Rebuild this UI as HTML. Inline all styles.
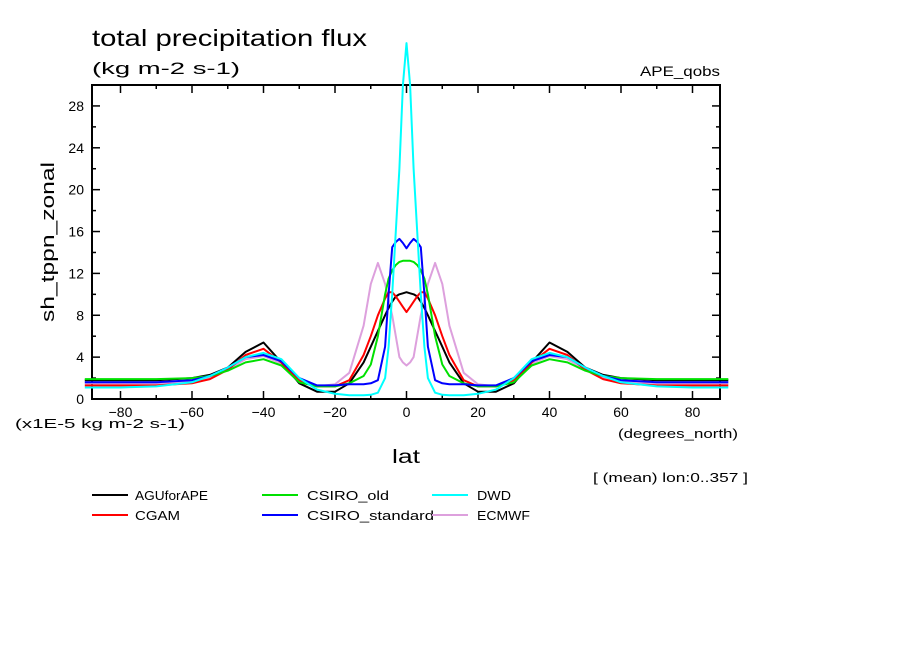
<!DOCTYPE html>
<html><head><meta charset="utf-8"><style>
body{margin:0;background:#fff;}
svg text{font-family:"Liberation Sans",sans-serif;fill:#000;}
</style></head><body>
<svg id="chart" width="904" height="654" viewBox="0 0 904 654" xmlns="http://www.w3.org/2000/svg">
<rect width="904" height="654" fill="#fff"/>
<text x="92" y="46" font-size="23" textLength="275" lengthAdjust="spacingAndGlyphs">total precipitation flux</text>
<text x="92" y="74" font-size="17" textLength="148" lengthAdjust="spacingAndGlyphs">(kg m-2 s-1)</text>
<text x="640" y="76" font-size="14" textLength="80" lengthAdjust="spacingAndGlyphs">APE_qobs</text>
<text x="0" y="0" font-size="18" text-anchor="middle" textLength="160" lengthAdjust="spacingAndGlyphs" transform="translate(54,242) rotate(-90)">sh_tppn_zonal</text>
<text x="15" y="428" font-size="13" textLength="170" lengthAdjust="spacingAndGlyphs">(x1E-5 kg m-2 s-1)</text>
<text x="618" y="438" font-size="13" textLength="120" lengthAdjust="spacingAndGlyphs">(degrees_north)</text>
<text x="392" y="463" font-size="19" textLength="28" lengthAdjust="spacingAndGlyphs">lat</text>
<text x="593" y="482" font-size="13" textLength="155" lengthAdjust="spacingAndGlyphs">[ (mean) lon:0..357 ]</text>
<g id="axes"></g>
<g id="series"></g>
<g id="legend"></g>
</svg>
<script>
const lat=[-90,-80,-70,-60,-55,-50,-45,-40,-35,-30,-25,-20,-16,-12,-10,-8,-6,-5,-4,-3,-2,-1,0,1,2,3,4,5,6,8,10,12,16,20,25,30,35,40,45,50,55,60,70,80,90];
const agu=[1.8,1.8,1.8,2,2.3,3,4.5,5.4,3.5,1.5,0.7,0.7,1.5,3.5,5,6.5,8,8.7,9.3,9.8,10,10.1,10.2,10.1,10,9.8,9.3,8.7,8,6.5,5,3.5,1.5,0.7,0.7,1.5,3.5,5.4,4.5,3,2.3,2,1.8,1.8,1.8];
const cgam=[1.3,1.3,1.3,1.5,1.9,2.8,4.2,4.8,3.5,1.8,1.2,1.2,1.8,4.2,6,8,9.6,10.2,10.2,9.8,9.3,8.8,8.3,8.8,9.3,9.8,10.2,10.2,9.6,8,6,4.2,1.8,1.2,1.2,1.8,3.5,4.8,4.2,2.8,1.9,1.5,1.3,1.3,1.3];
const csiroOld=[1.9,1.9,1.9,2,2.2,2.7,3.5,3.8,3.2,1.6,1.2,1.2,1.5,2.2,3.3,6,10,11.5,12.3,12.8,13.1,13.2,13.2,13.2,13.1,12.8,12.3,11.5,10,6,3.3,2.2,1.5,1.2,1.2,1.6,3.2,3.8,3.5,2.7,2.2,2,1.9,1.9,1.9];
const csiroStd=[1.6,1.6,1.6,1.8,2.2,3,4,4.2,3.6,2,1.3,1.3,1.4,1.4,1.5,1.8,5,10,14.5,15,15.3,14.9,14.4,14.9,15.3,15,14.5,10,5,1.8,1.5,1.4,1.4,1.3,1.3,2,3.6,4.2,4,3,2.2,1.8,1.6,1.6,1.6];
const dwd=[1.1,1.1,1.2,1.6,2.2,3,4,4.4,3.8,2,0.9,0.5,0.35,0.35,0.4,0.6,2,5,10,16,22,30,34,30,22,16,10,5,2,0.6,0.4,0.35,0.35,0.5,0.9,2,3.8,4.4,4,3,2.2,1.6,1.2,1.1,1.1];
const ecmwf=[1.5,1.5,1.5,1.6,2,2.8,3.8,4.1,3.4,1.7,1.2,1.4,2.5,7,11,13,11,9.5,8,6,4,3.5,3.2,3.5,4,6,8,9.5,11,13,11,7,2.5,1.4,1.2,1.7,3.4,4.1,3.8,2.8,2,1.6,1.5,1.5,1.5];
const yTicks=[0,4,8,12,16,20,24,28];
const xTicks=[-80,-60,-40,-20,0,20,40,60,80];
const seriesNames=["AGUforAPE","CGAM","CSIRO_old","CSIRO_standard","DWD","ECMWF"];
const seriesColors=["#000000","#ff0000","#00e000","#0000ff","#00ffff","#dda0dd"];
const seriesData=[agu,cgam,csiroOld,csiroStd,dwd,ecmwf];
const legendWidths=[73,45,82,127,34,53];

const NS="http://www.w3.org/2000/svg";
const L=92,R=720,T=85,B=399;
const xs=v=>406.5+v*3.575;
const ys=v=>B-(v/30)*(B-T);
function mk(tag,attrs,parent){const e=document.createElementNS(NS,tag);for(const k in attrs)e.setAttribute(k,attrs[k]);parent.appendChild(e);return e;}
const ax=document.getElementById('axes');
const frame=mk('rect',{x:L,y:T,width:R-L,height:B-T,fill:'none',stroke:'#000','stroke-width':2},ax);


for(let v=0;v<=30;v+=2){
  const len=(v%4===0)?8:4;const y=ys(v);
  mk('line',{x1:L,y1:y,x2:L+len,y2:y,stroke:'#000','stroke-width':1.5},ax);
  mk('line',{x1:R,y1:y,x2:R-len,y2:y,stroke:'#000','stroke-width':1.5},ax);
}
yTicks.forEach(v=>{
  const t=mk('text',{x:L-8,y:ys(v)+5,'font-size':14,'text-anchor':'end'},ax);
  t.textContent=v;
  
  
});
for(let v=-80;v<=80;v+=10){
  const len=(v%20===0)?8:4;const x=xs(v);
  mk('line',{x1:x,y1:B,x2:x,y2:B-len,stroke:'#000','stroke-width':1.5},ax);
  mk('line',{x1:x,y1:T,x2:x,y2:T+len,stroke:'#000','stroke-width':1.5},ax);
}
xTicks.forEach(v=>{
  const t=mk('text',{x:xs(v),y:B+18,'font-size':14,'text-anchor':'middle'},ax);
  t.textContent=(v<0?'\u2212':'')+Math.abs(v);
  
  
});
const sg=document.getElementById('series');
const order=[5,0,1,2,3,4];
order.forEach(i=>{
  const pts=lat.map((la,j)=>xs(la).toFixed(1)+','+ys(seriesData[i][j]).toFixed(1)).join(' ');
  const p=mk('polyline',{points:pts,fill:'none',stroke:seriesColors[i],'stroke-width':2,'stroke-linejoin':'round'},sg);
  
  
});
const lg=document.getElementById('legend');
const colX=[92,262,432];const rowY=[495,515];const textX=[135,307,477];
seriesNames.forEach((n,i)=>{
  const c=Math.floor(i/2),r=i%2;
  const g=mk('g',{},lg);
  
  
  mk('line',{x1:colX[c],y1:rowY[r],x2:colX[c]+36,y2:rowY[r],stroke:seriesColors[i],'stroke-width':2},g);
  const t=mk('text',{x:textX[c],y:rowY[r]+5,'font-size':13,textLength:legendWidths[i],lengthAdjust:'spacingAndGlyphs'},g);
  t.textContent=n;
});
</script>
</body></html>
